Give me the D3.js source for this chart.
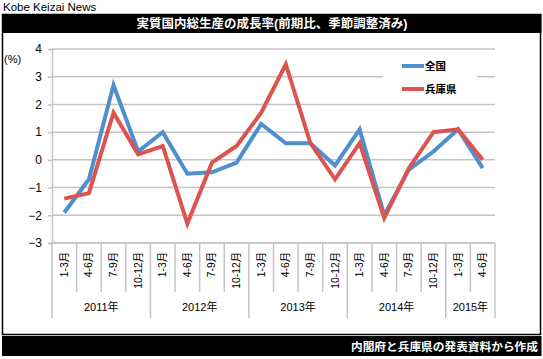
<!DOCTYPE html>
<html><head><meta charset="utf-8">
<script src="https://cdn.jsdelivr.net/npm/d3@7"></script>
<style>
body{margin:0;background:#fff;}
svg text{font-family:Arial,"Liberation Sans","Noto Sans CJK JP",sans-serif;}
</style></head>
<body><svg id="c" width="543" height="359"></svg>
<script>
const quarters = ["1-3月","4-6月","7-9月","10-12月","1-3月","4-6月","7-9月","10-12月","1-3月","4-6月","7-9月","10-12月","1-3月","4-6月","7-9月","10-12月","1-3月","4-6月"];
const years = ["2011年","2012年","2013年","2014年","2015年"];
const yearCounts = [4,4,4,4,2];
const national = [-1.9,-0.7,2.7,0.3,1.0,-0.5,-0.45,-0.1,1.3,0.6,0.6,-0.2,1.1,-2.0,-0.35,0.3,1.1,-0.3];
const hyogo = [-1.4,-1.2,1.7,0.2,0.5,-2.3,-0.1,0.5,1.7,3.45,0.6,-0.7,0.6,-2.1,-0.3,1.0,1.1,0.0];
const yTicks = [4,3,2,1,0,-1,-2,-3];
const seriesNames = ["全国","兵庫県"];
const colors = ["#4f8fcf","#dd5350"];

const svg = d3.select("#c");
const jp = 'Arial,"Noto Sans CJK JP",sans-serif';

// header
svg.append("text").attr("x",3).attr("y",11).attr("font-size",11.5).text("Kobe Keizai News");
svg.append("rect").attr("x",2.5).attr("y",14.5).attr("width",538).attr("height",320).attr("fill","#fff").attr("stroke","#000").attr("stroke-width",1.5);
svg.append("rect").attr("x",2).attr("y",14).attr("width",539.5).attr("height",19).attr("fill","#000");
svg.append("text").attr("x",272).attr("y",28).attr("text-anchor","middle").attr("fill","#fff")
  .attr("font-size",12.5).attr("font-weight","bold").style("font-family",jp).text("実質国内総生産の成長率(前期比、季節調整済み)");
svg.append("rect").attr("x",2).attr("y",336).attr("width",539.5).attr("height",20).attr("fill","#000");
svg.append("text").attr("x",538).attr("y",351).attr("text-anchor","end").attr("fill","#fff")
  .attr("font-size",11.7).attr("font-weight","bold").style("font-family",jp).text("内閣府と兵庫県の発表資料から作成");

const x0=52, x1=495, yTop=49, yBot=243;
const x = d3.scaleBand().domain(d3.range(quarters.length)).range([x0,x1]);
const y = d3.scaleLinear().domain([-3,4]).range([yBot,yTop]);

// gridlines
svg.append("g").selectAll("line").data(yTicks).join("line")
  .attr("x1",x0).attr("x2",x1).attr("y1",d=>y(d)).attr("y2",d=>y(d))
  .attr("stroke","#c4c4c4").attr("stroke-width",1.5);

// y axis
const ya = svg.append("g").attr("transform",`translate(${x0},0)`)
  .call(d3.axisLeft(y).tickValues(yTicks).tickSize(4).tickPadding(6).tickFormat(d3.format("d")));
ya.select(".domain").attr("stroke","#c4c4c4").attr("stroke-width",1.5);
ya.selectAll(".tick line").attr("stroke","#c4c4c4").attr("stroke-width",1.5);
ya.selectAll("text").attr("font-size",12).attr("fill","#000").style("font-family","Arial");
svg.append("text").attr("x",4).attr("y",63).attr("font-size",11).text("(%)");

// category axis
const cat = svg.append("g");
const bounds = d3.range(quarters.length+1).map(i=> i<quarters.length ? x(i) : x1);
let cum=[0]; yearCounts.forEach(c=>cum.push(cum[cum.length-1]+c));
cat.selectAll("line.q").data(bounds).join("line").attr("class","q")
  .attr("x1",d=>d).attr("x2",d=>d).attr("y1",yBot)
  .attr("y2",(d,i)=> cum.includes(i) ? 318 : 292)
  .attr("stroke","#c4c4c4").attr("stroke-width",1.5);
cat.selectAll("text.q").data(quarters).join("text").attr("class","q")
  .attr("transform",(d,i)=>`translate(${x(i)+x.bandwidth()/2+3.5},252) rotate(-90)`)
  .attr("text-anchor","end").attr("font-size",10.3).style("font-family",jp).text(d=>d);
cat.selectAll("text.y").data(years).join("text").attr("class","y")
  .attr("x",(d,i)=> (bounds[cum[i]]+bounds[cum[i+1]])/2).attr("y",311)
  .attr("text-anchor","middle").attr("font-size",11).style("font-family",jp).text(d=>d);
svg.append("line").attr("x1",x0).attr("x2",x1).attr("y1",yBot).attr("y2",yBot).attr("stroke","#c4c4c4").attr("stroke-width",1.5);

// lines
const line = d3.line().x((d,i)=>x(i)+x.bandwidth()/2).y(d=>y(d));
[national,hyogo].forEach((s,k)=>{
  svg.append("path").datum(s).attr("d",line).attr("fill","none")
    .attr("stroke",colors[k]).attr("stroke-width",4).attr("stroke-linejoin","miter");
});
// legend
const lg = svg.append("g");
lg.append("rect").attr("x",383).attr("y",52).attr("width",94).attr("height",50).attr("fill","#fff");
seriesNames.forEach((n,k)=>{
  const ly = 66 + k*23;
  lg.append("line").attr("x1",402).attr("x2",424).attr("y1",ly).attr("y2",ly).attr("stroke",colors[k]).attr("stroke-width",4);
  lg.append("text").attr("x",425).attr("y",ly+4).attr("font-size",10.5).attr("font-weight","bold").style("font-family",jp).text(n);
});
</script></body></html>
